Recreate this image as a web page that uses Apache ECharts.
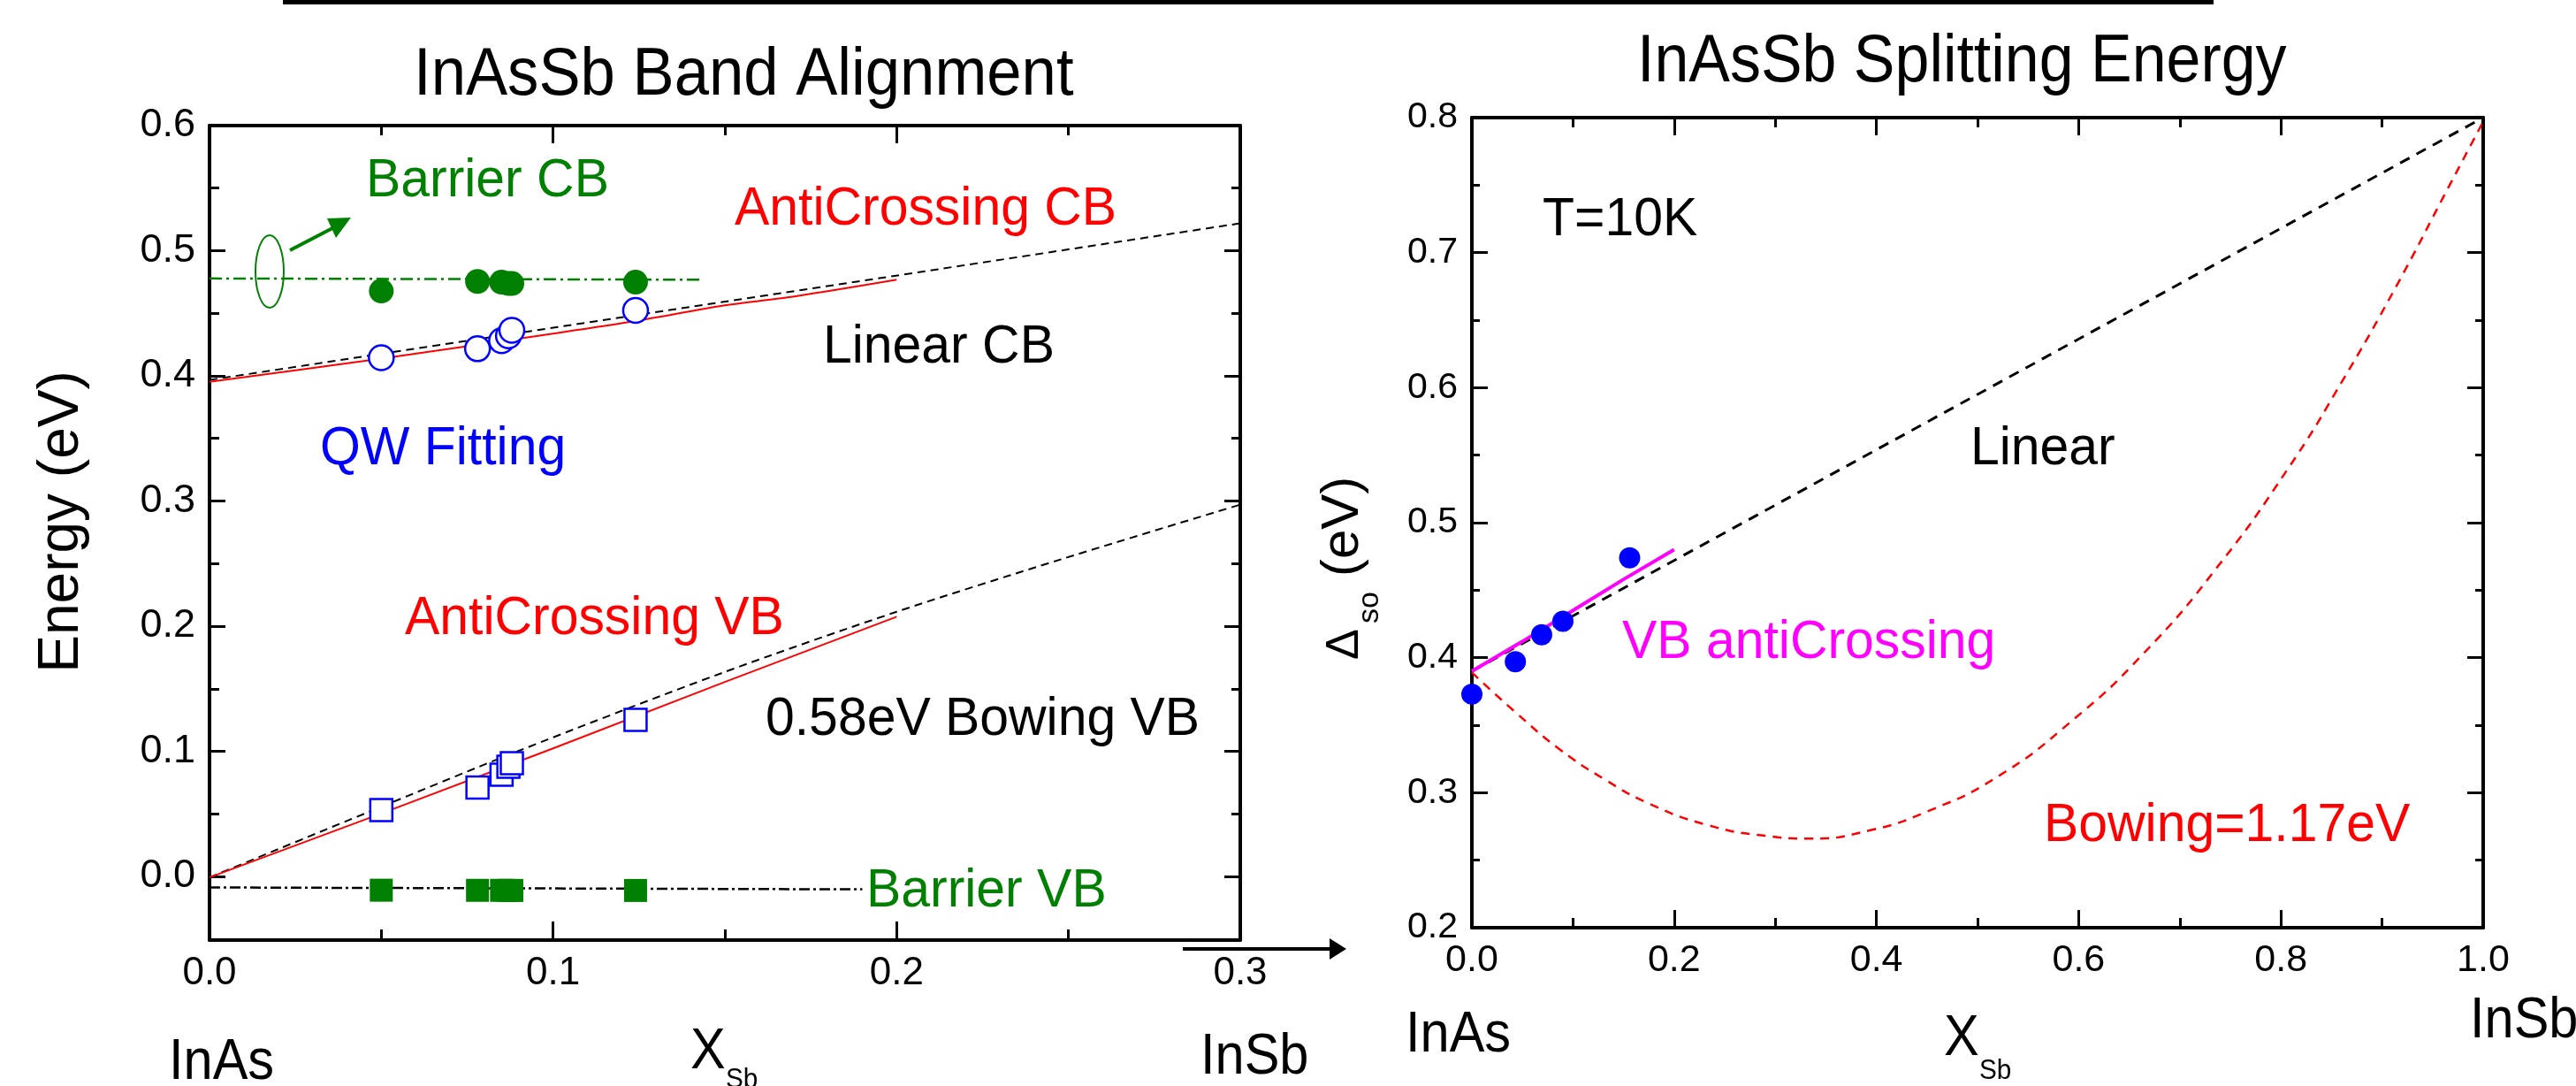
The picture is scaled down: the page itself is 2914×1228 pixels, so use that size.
<!DOCTYPE html>
<html><head><meta charset="utf-8">
<script src="https://cdn.jsdelivr.net/npm/echarts@6/dist/echarts.min.js"></script>
<style>html,body{margin:0;padding:0;background:#fff}#c{width:2914px;height:1228px}</style>
</head><body><div id="c"></div>
<script>
// ---------- Left panel: InAsSb Band Alignment ----------
const sampleX      = [0.050, 0.078, 0.085, 0.087, 0.088, 0.124];
const barrierCB    = [0.468, 0.4756, 0.475, 0.474, 0.474, 0.475];
const qwFitCB      = [0.4148, 0.4219, 0.4283, 0.4322, 0.4367, 0.4525];
const qwFitVB      = [0.0537, 0.0717, 0.082, 0.0883, 0.0912, 0.1258];
const barrierVB    = [-0.0102, -0.0103, -0.0103, -0.0104, -0.0104, -0.0104];

const linearCBX    = [0, 0.3];
const linearCBY    = [0.397, 0.522];
const antiCBX      = [0, 0.05, 0.1, 0.124, 0.15, 0.171, 0.2];
const antiCBY      = [0.3955, 0.414, 0.434, 0.444, 0.4565, 0.464, 0.477];
const bowVBX       = [0, 0.047, 0.09, 0.149, 0.2, 0.248, 0.3];
const bowVBY       = [0, 0.053, 0.101, 0.163, 0.212, 0.254, 0.2975];
const antiVBX      = [0, 0.05, 0.1, 0.15, 0.2];
const antiVBY      = [0, 0.051, 0.103, 0.156, 0.208];
const barCBLineX   = [0, 0.143];
const barCBLineY   = [0.478, 0.477];
const barVBLineX   = [0, 0.19];
const barVBLineY   = [-0.008, -0.0095];

// ---------- Right panel: InAsSb Splitting Energy ----------
const soX          = [0, 0.043, 0.069, 0.090, 0.156];
const soY          = [0.373, 0.397, 0.417, 0.427, 0.474];
const soLinearX    = [0, 1];
const soLinearY    = [0.39, 0.80];
const soBowX       = [0, 0.044, 0.087, 0.131, 0.175, 0.233, 0.291, 0.335, 0.393, 0.45, 0.518, 0.593, 0.664, 0.736, 0.807, 0.86, 0.914, 0.964, 1.0];
const soBowY       = [0.389, 0.359, 0.332, 0.310, 0.292, 0.276, 0.268, 0.266, 0.272, 0.286, 0.311, 0.353, 0.403, 0.466, 0.540, 0.604, 0.675, 0.746, 0.797];
const soAntiX      = [0, 0.05, 0.1, 0.15, 0.2];
const soAntiY      = [0.39, 0.412, 0.435, 0.458, 0.48];

const FF = '"Liberation Sans", Arial, Helvetica, sans-serif';
const GREEN = '#008000', RED = '#ff0000', BLUE = '#0000ff', MAG = '#ff00ff';
const pair = (xs, ys) => xs.map((x, i) => [x, ys[i]]);
const fmt1 = v => v.toFixed(1);

function axis(o) {
  const a = {
    type: 'value', gridIndex: o.grid, position: o.pos, min: o.min, max: o.max,
    splitLine: {show: false},
    axisLine: {show: o.line !== false, onZero: false, lineStyle: {color: '#000', width: 4}},
    axisTick: {show: o.ticks !== false, inside: true, length: o.tl || 20, lineStyle: {color: '#000', width: 3}},
    minorTick: {show: o.ticks !== false, splitNumber: 2, length: o.ml || 11, lineStyle: {color: '#000', width: 3}},
    axisLabel: {show: !!o.label, formatter: fmt1, color: '#000', fontFamily: FF, fontSize: o.fs || 44, margin: 16}
  };
  if (o.interval) a.interval = o.interval;
  if (o.show === false) a.show = false;
  return a;
}

function lineS(xs, ys, color, width, type, xi, yi, smooth) {
  return {type: 'line', xAxisIndex: xi, yAxisIndex: yi, data: pair(xs, ys), symbol: 'none',
    smooth: smooth || false, lineStyle: {color, width, type}, z: 2, animation: false, silent: true};
}
function scat(xs, ys, sym, size, fill, border, xi, yi) {
  return {type: 'scatter', xAxisIndex: xi, yAxisIndex: yi, data: pair(xs, ys), symbol: sym, symbolSize: size,
    itemStyle: {color: fill, borderColor: border, borderWidth: border ? 2.5 : 0, opacity: 1}, z: 4, animation: false, silent: true};
}
function txt(s, x, y, size, color, sx, extra) {
  return Object.assign({type: 'text', x, y, scaleX: sx || 1, z: 10,
    style: {text: s, fontSize: size, fontFamily: FF, fill: color, align: 'left', verticalAlign: 'middle'}}, extra || {});
}

const chart = echarts.init(document.getElementById('c'), null, {renderer: 'canvas'});
chart.setOption({
  backgroundColor: '#fff',
  animation: false,
  grid: [
    {left: 237, top: 142, width: 1166, height: 921, outerBoundsMode: 'none'},
    {left: 237, top: 142, width: 1166, height: 849, outerBoundsMode: 'none'},
    {left: 1665, top: 133, width: 1144, height: 916, outerBoundsMode: 'none'}
  ],
  xAxis: [
    axis({grid: 0, pos: 'bottom', min: 0, max: 0.3, interval: 0.1, label: true, tl: 21, ml: 12, fs: 44}),
    axis({grid: 0, pos: 'top', min: 0, max: 0.3, interval: 0.1, tl: 20, ml: 11}),
    axis({grid: 1, pos: 'bottom', min: 0, max: 0.3, show: false}),
    axis({grid: 2, pos: 'bottom', min: 0, max: 1, interval: 0.2, label: true, tl: 20, ml: 11, fs: 43}),
    axis({grid: 2, pos: 'top', min: 0, max: 1, interval: 0.2, tl: 20, ml: 11})
  ],
  yAxis: [
    axis({grid: 0, pos: 'left', min: -0.05, max: 0.6, ticks: false}),
    axis({grid: 0, pos: 'right', min: -0.05, max: 0.6, ticks: false}),
    axis({grid: 1, pos: 'left', min: 0, max: 0.6, interval: 0.1, line: false, label: true, tl: 18, ml: 11, fs: 45}),
    axis({grid: 1, pos: 'right', min: 0, max: 0.6, interval: 0.1, line: false, tl: 18, ml: 10}),
    axis({grid: 2, pos: 'left', min: 0.2, max: 0.8, interval: 0.1, label: true, tl: 18, ml: 9, fs: 41}),
    axis({grid: 2, pos: 'right', min: 0.2, max: 0.8, interval: 0.1, tl: 18, ml: 9})
  ],
  series: [
    lineS(linearCBX, linearCBY, '#000', 2, [9, 6], 0, 0),
    lineS(antiCBX, antiCBY, RED, 2, 'solid', 0, 0, 0.3),
    lineS(bowVBX, bowVBY, '#000', 2, [9, 6], 0, 0, 0.3),
    lineS(antiVBX, antiVBY, RED, 2, 'solid', 0, 0),
    lineS(barCBLineX, barCBLineY, GREEN, 2.5, [14, 5, 3, 5], 0, 0),
    lineS(barVBLineX, barVBLineY, '#000', 2.5, [12, 4, 3, 4], 0, 0),
    scat(sampleX, barrierCB, 'circle', 28, GREEN, null, 0, 0),
    scat(sampleX, qwFitCB, 'circle', 28, '#fff', BLUE, 0, 0),
    scat(sampleX, qwFitVB, 'rect', 25, '#fff', BLUE, 0, 0),
    scat(sampleX, barrierVB, 'rect', 26, GREEN, null, 0, 0),

    lineS(soLinearX, soLinearY, '#000', 3, [12, 9], 3, 4),
    lineS(soBowX, soBowY, RED, 2.5, [10, 8], 3, 4, 0.5),
    lineS(soAntiX, soAntiY, MAG, 4, 'solid', 3, 4),
    scat(soX, soY, 'circle', 24, BLUE, null, 3, 4)
  ],
  graphic: [
    {type: 'rect', shape: {x: 320, y: 0, width: 2184, height: 5}, style: {fill: '#000'}, z: 10},
    // titles
    txt('InAsSb Band Alignment', 468, 86, 76, '#000', 0.93),
    txt('InAsSb Splitting Energy', 1852, 71, 76, '#000', 0.92),
    // axis names
    txt('Energy (eV)', 70, 590, 64, '#000', 1, {rotation: Math.PI / 2, style: {text: 'Energy (eV)', fontSize: 64, fontFamily: FF, fill: '#000', align: 'center', verticalAlign: 'middle'}}),
    txt('\u0394', 1522, 746, 52, '#000', 1, {rotation: Math.PI / 2}),
    txt('so', 1550, 705, 34, '#000', 1, {rotation: Math.PI / 2}),
    txt('(eV)', 1519, 652, 60, '#000', 1, {rotation: Math.PI / 2}),
    // bottom labels
    txt('InAs', 191, 1202, 64, '#000', 0.93),
    txt('X', 781, 1190, 64, '#000', 0.93),
    txt('Sb', 821, 1221, 32, '#000', 0.93),
    txt('InSb', 1358, 1196, 64, '#000', 0.93),
    txt('InAs', 1590, 1171, 64, '#000', 0.93),
    txt('X', 2199, 1175, 64, '#000', 0.93),
    txt('Sb', 2239, 1211, 32, '#000', 0.93),
    txt('InSb', 2794, 1155, 64, '#000', 0.93),
    // left annotations
    txt('Barrier CB', 414, 205, 62, GREEN, 0.95),
    txt('AntiCrossing CB', 831, 237, 62, RED, 0.95),
    txt('Linear CB', 931, 393, 62, '#000', 0.95),
    txt('QW Fitting', 362, 508, 62, BLUE, 0.95),
    txt('AntiCrossing VB', 458, 700, 62, RED, 0.95),
    txt('0.58eV Bowing VB', 866, 814, 62, '#000', 0.95),
    txt('Barrier VB', 980, 1008, 62, GREEN, 0.95),
    // right annotations
    txt('T=10K', 1745, 249, 62, '#000', 0.95),
    txt('Linear', 2229, 508, 62, '#000', 0.95),
    txt('VB antiCrossing', 1835, 727, 62, MAG, 0.95),
    txt('Bowing=1.17eV', 2312, 934, 62, RED, 0.95),
    // ellipse + arrow
    {type: 'ellipse', shape: {cx: 305, cy: 307, rx: 16, ry: 41}, style: {fill: 'none', stroke: GREEN, lineWidth: 2}, z: 10},
    {type: 'line', shape: {x1: 328, y1: 283, x2: 380, y2: 256}, style: {stroke: GREEN, lineWidth: 4}, z: 10},
    {type: 'polygon', shape: {points: [[370, 247], [397, 246], [380, 269]]}, style: {fill: GREEN}, z: 10},
    // bottom arrow
    {type: 'line', shape: {x1: 1338, y1: 1073, x2: 1510, y2: 1073}, style: {stroke: '#000', lineWidth: 4}, z: 10},
    {type: 'polygon', shape: {points: [[1504, 1061], [1523, 1073], [1504, 1085]]}, style: {fill: '#000'}, z: 10}
  ]
});
</script>
</body></html>
